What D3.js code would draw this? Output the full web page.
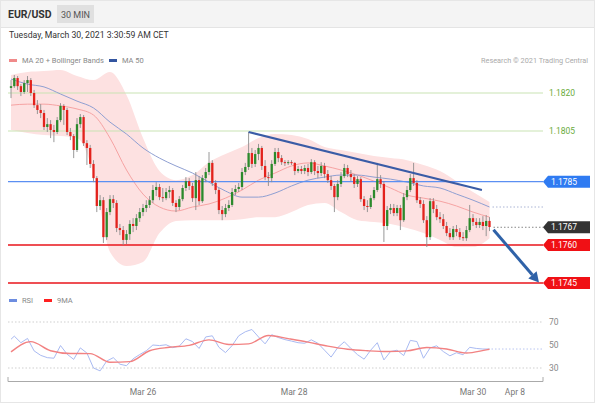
<!DOCTYPE html>
<html>
<head>
<meta charset="utf-8">
<script src="https://cdnjs.cloudflare.com/ajax/libs/d3/7.8.5/d3.min.js"></script>
<style>
body{margin:0;background:#fff;}
svg text{font-family:Roboto,"Liberation Sans",Arial,sans-serif;}
</style>
</head>
<body>
<svg id="container"></svg>
<script>
// EUR/USD 30 min candles (open of each candle = previous close)
var firstOpen = 1.18220;
var closes = [1.18227,1.18259,1.18227,1.18204,1.18239,1.18251,1.18200,1.18152,1.18133,1.18121,
  1.18066,1.18077,1.18054,1.18046,1.18093,1.18149,1.18133,1.18046,1.18030,1.17975,
  1.18077,1.18105,1.18002,1.17983,1.17920,1.17864,1.17754,1.17777,1.17631,1.17730,
  1.17781,1.17766,1.17667,1.17659,1.17620,1.17643,1.17683,1.17675,1.17706,1.17730,
  1.17746,1.17758,1.17777,1.17817,1.17829,1.17789,1.17785,1.17809,1.17817,1.17766,
  1.17750,1.17781,1.17825,1.17852,1.17833,1.17785,1.17856,1.17773,1.17864,1.17888,
  1.17924,1.17845,1.17817,1.17738,1.17722,1.17746,1.17758,1.17809,1.17821,1.17829,
  1.17888,1.17908,1.17963,1.17920,1.17959,1.17983,1.17912,1.17868,1.17864,1.17920,
  1.17967,1.17943,1.17927,1.17924,1.17927,1.17924,1.17892,1.17900,1.17892,1.17904,
  1.17888,1.17927,1.17892,1.17884,1.17912,1.17880,1.17856,1.17833,1.17789,1.17841,
  1.17872,1.17904,1.17880,1.17868,1.17841,1.17860,1.17781,1.17754,1.17750,1.17785,
  1.17817,1.17860,1.17841,1.17675,1.17738,1.17746,1.17726,1.17746,1.17698,1.17789,
  1.17817,1.17864,1.17845,1.17777,1.17762,1.17698,1.17631,1.17773,1.17742,1.17710,
  1.17702,1.17675,1.17647,1.17631,1.17663,1.17651,1.17631,1.17627,1.17659,1.17706,
  1.17691,1.17679,1.17691,1.17675,1.17695,1.17671];
var highs = [1.18251,1.18271,1.18267,1.18235,1.18251,1.18267,1.18259,1.18212,1.18172,1.18156,
  1.18133,1.18101,1.18093,1.18074,1.18105,1.18160,1.18156,1.18141,1.18062,1.18038,
  1.18101,1.18117,1.18113,1.18014,1.17995,1.17935,1.17872,1.17797,1.17789,1.17746,
  1.17797,1.17797,1.17777,1.17683,1.17675,1.17659,1.17698,1.17706,1.17722,1.17746,
  1.17762,1.17777,1.17793,1.17837,1.17848,1.17841,1.17825,1.17825,1.17833,1.17825,
  1.17777,1.17793,1.17837,1.17868,1.17864,1.17845,1.17888,1.17872,1.17876,1.17904,
  1.17967,1.17935,1.17856,1.17825,1.17754,1.17762,1.17777,1.17825,1.17837,1.17845,
  1.17904,1.17924,1.18046,1.17983,1.17975,1.17999,1.17991,1.17935,1.17888,1.17935,
  1.17983,1.17983,1.17955,1.17935,1.17935,1.17935,1.17927,1.17912,1.17912,1.17916,
  1.17920,1.17939,1.17935,1.17912,1.17927,1.17924,1.17896,1.17872,1.17841,1.17856,
  1.17888,1.17920,1.17916,1.17896,1.17880,1.17872,1.17868,1.17793,1.17777,1.17797,
  1.17829,1.17924,1.17876,1.17852,1.17754,1.17762,1.17762,1.17758,1.17758,1.17805,
  1.17833,1.17880,1.17924,1.17856,1.17789,1.17777,1.17714,1.17785,1.17785,1.17758,
  1.17730,1.17722,1.17691,1.17667,1.17675,1.17679,1.17667,1.17651,1.17675,1.17758,
  1.17722,1.17706,1.17706,1.17714,1.17718,1.17710];
var lows = [1.18180,1.18220,1.18212,1.18188,1.18196,1.18204,1.18188,1.18141,1.18117,1.18101,
  1.18054,1.18046,1.18022,1.18006,1.18038,1.18085,1.18074,1.18034,1.18014,1.17943,
  1.17967,1.18062,1.17991,1.17916,1.17904,1.17848,1.17730,1.17738,1.17608,1.17620,
  1.17718,1.17746,1.17651,1.17639,1.17600,1.17604,1.17620,1.17651,1.17659,1.17691,
  1.17714,1.17730,1.17746,1.17766,1.17793,1.17777,1.17770,1.17777,1.17785,1.17754,
  1.17730,1.17738,1.17773,1.17813,1.17817,1.17770,1.17738,1.17758,1.17766,1.17848,
  1.17876,1.17833,1.17801,1.17722,1.17698,1.17710,1.17734,1.17750,1.17797,1.17809,
  1.17817,1.17876,1.17896,1.17904,1.17908,1.17935,1.17896,1.17856,1.17833,1.17848,
  1.17912,1.17927,1.17916,1.17912,1.17916,1.17916,1.17876,1.17884,1.17880,1.17880,
  1.17872,1.17880,1.17876,1.17864,1.17872,1.17864,1.17845,1.17817,1.17730,1.17777,
  1.17829,1.17864,1.17868,1.17852,1.17825,1.17829,1.17770,1.17738,1.17730,1.17742,
  1.17777,1.17809,1.17825,1.17612,1.17659,1.17722,1.17714,1.17714,1.17659,1.17691,
  1.17777,1.17809,1.17833,1.17766,1.17746,1.17687,1.17592,1.17620,1.17726,1.17698,
  1.17687,1.17663,1.17635,1.17620,1.17620,1.17635,1.17620,1.17616,1.17616,1.17651,
  1.17675,1.17667,1.17667,1.17659,1.17635,1.17655];

// indicators, read every 5 candles
var bandIdx = d3.range(0, 146, 5);
var bbUp  = [1.18271,1.18283,1.18287,1.18291,1.18267,1.18251,1.18283,1.18192,1.18022,1.17892,
  1.17856,1.17876,1.17927,1.17959,1.17987,1.18022,1.18038,1.18034,1.18018,1.17987,
  1.17975,1.17963,1.17951,1.17943,1.17935,1.17916,1.17892,1.17852,1.17809,1.17770];
var bbLow = [1.18054,1.18042,1.18034,1.18030,1.18022,1.17880,1.17572,1.17517,1.17533,1.17647,
  1.17695,1.17698,1.17698,1.17698,1.17702,1.17710,1.17710,1.17730,1.17758,1.17766,
  1.17730,1.17698,1.17691,1.17683,1.17667,1.17647,1.17620,1.17592,1.17592,1.17627];
var ma20  = [1.18152,1.18156,1.18156,1.18149,1.18137,1.18113,1.18022,1.17896,1.17801,1.17750,
  1.17734,1.17750,1.17762,1.17785,1.17817,1.17856,1.17884,1.17912,1.17924,1.17912,
  1.17896,1.17876,1.17852,1.17825,1.17797,1.17785,1.17773,1.17754,1.17730,1.17710];
var ma50  = [1.18255,1.18235,1.18224,1.18196,1.18168,1.18141,1.18085,1.18038,1.17983,1.17943,
  1.17912,1.17884,1.17848,1.17813,1.17789,1.17789,1.17805,1.17833,1.17856,1.17868,
  1.17876,1.17876,1.17868,1.17860,1.17848,1.17833,1.17825,1.17801,1.17777,1.17750];

// RSI every 2 candles (odd candles), 9MA every 6
var rsiIdx = d3.range(1, 146, 2);
var rsi = [57.7,52.0,55.7,44.9,41.0,39.0,38.5,49.5,42.0,37.5,
  47.5,43.0,30.0,27.5,36.0,39.0,33.3,32.0,38.0,41.7,
  45.0,50.0,49.5,50.2,47.7,49.0,55.4,53.0,47.0,57.0,
  58.0,48.0,43.4,49.5,58.0,61.5,63.5,57.0,51.0,59.0,
  56.5,54.7,53.4,52.0,51.5,54.5,51.5,45.5,39.5,47.7,
  52.8,47.0,41.6,37.7,45.5,52.0,37.0,44.3,45.5,40.8,
  54.0,53.0,38.5,47.5,49.3,44.3,40.6,43.3,41.5,48.0,
  47.0,46.5,46.5];
var ma9Idx = [0,6,12,18,24,30,36,42,48,54,60,66,72,78,84,90,96,102,108,114,120,126,132,138,144,145];
var rsiMa9 = [44.0,52.9,45.0,42.6,42.5,35.0,35.5,45.0,48.0,49.7,54.5,50.5,51.0,58.3,55.5,52.5,49.0,46.3,45.0,44.3,44.9,47.8,46.5,43.0,45.8,46.3];

// levels and drawings
var greenLevels = [1.1820, 1.1805];
var resistance = 1.1785;
var supports = [1.1760, 1.1745];
var lastPrice = 1.1767;
var trendIdx = [72, 142.7], trendPx = [1.18046, 1.17817];
var arrowIdx = [146.2, 160], arrowPx = [1.17660, 1.17452];
var tickLabels = ["Mar 26", "Mar 28", "Mar 30", "Apr 8"];
var tickIdx = [40, 85.8, 140, 152.7];
var rsiLevels = [70, 50, 30];

var W = 595, H = 403;
var left = 8, right = 543;

var svg = d3.select("#container").attr("width", W).attr("height", H);

var prices = closes.map(function(c, i){
    return {i: i, open: i ? closes[i-1] : firstOpen, high: highs[i], low: lows[i], close: c};
});

var xScale = d3.scaleLinear().domain([0, 145]).range([11, 489.5]);
var yScale = d3.scaleLinear().domain([1.1745, 1.1820]).range([283, 93]);
var rScale = d3.scaleLinear().domain([30, 70]).range([368, 322]);

// frame + header
svg.append("rect").attr("x", 0.5).attr("y", 0.5).attr("width", W-1).attr("height", H-1)
    .attr("fill", "#fff").attr("stroke", "#e6e6e6");
svg.append("rect").attr("x", 1).attr("y", 1).attr("width", W-2).attr("height", 26).attr("fill", "#f4f4f4");
svg.append("line").attr("x1", 1).attr("x2", W-1).attr("y1", 27.5).attr("y2", 27.5).attr("stroke", "#e4e4e4");
svg.append("text").attr("x", 8).attr("y", 18).attr("font-size", 10.5).attr("font-weight", "bold")
    .attr("fill", "#333").text("EUR/USD");
svg.append("rect").attr("x", 57).attr("y", 5).attr("width", 37).attr("height", 18).attr("fill", "#e0e0e0");
svg.append("text").attr("x", 75.5).attr("y", 17.5).attr("font-size", 9).attr("text-anchor", "middle")
    .attr("fill", "#555").text("30 MIN");
svg.append("text").attr("x", 9).attr("y", 38).attr("font-size", 8.7).attr("fill", "#333")
    .text("Tuesday, March 30, 2021 3:30:59 AM CET");
svg.append("text").attr("x", 588).attr("y", 63).attr("font-size", 7.3).attr("text-anchor", "end")
    .attr("fill", "#aaa").text("Research \u00a9 2021 Trading Central");

// legends
function legend(g, x, y, color, label){
    g.append("rect").attr("x", x).attr("y", y-3).attr("width", 8).attr("height", 3).attr("fill", color);
    g.append("text").attr("x", x+13).attr("y", y+1).attr("font-size", 7.5).attr("fill", "#888").text(label);
}
legend(svg, 9, 62, "#f08a8a", "MA 20 + Bollinger Bands");
legend(svg, 109, 62, "#3355a0", "MA 50");
legend(svg, 9, 302, "#6d8de0", "RSI");
legend(svg, 44, 302, "#ff2020", "9MA");

var main = svg.append("g");

// bollinger band + moving averages
var bands = bandIdx.map(function(d, k){ return {i: d, up: bbUp[k], low: bbLow[k], ma20: ma20[k], ma50: ma50[k]}; });
main.append("path").datum(bands)
    .attr("d", d3.area().curve(d3.curveMonotoneX).x(d => xScale(d.i)).y0(d => yScale(d.low)).y1(d => yScale(d.up)))
    .attr("fill", "#fde1e1");

// horizontal levels
greenLevels.forEach(function(p){
    main.append("line").attr("x1", left).attr("x2", right).attr("y1", yScale(p)).attr("y2", yScale(p))
        .attr("stroke", "#c9e4b4").attr("stroke-width", 1.2);
    main.append("text").attr("x", 549).attr("y", yScale(p)+3).attr("font-size", 8.5).attr("fill", "#6aab3c")
        .text(p.toFixed(4));
});

main.append("path").datum(bands)
    .attr("d", d3.line().curve(d3.curveMonotoneX).x(d => xScale(d.i)).y(d => yScale(d.ma20)))
    .attr("fill", "none").attr("stroke", "#f6a3a3").attr("stroke-width", 1);
main.append("path").datum(bands)
    .attr("d", d3.line().curve(d3.curveMonotoneX).x(d => xScale(d.i)).y(d => yScale(d.ma50)))
    .attr("fill", "none").attr("stroke", "#8f9fd2").attr("stroke-width", 1);

main.append("line").attr("x1", left).attr("x2", right).attr("y1", yScale(resistance)).attr("y2", yScale(resistance))
    .attr("stroke", "#5b8ff2").attr("stroke-width", 1.2);
supports.forEach(function(p){
    main.append("line").attr("x1", left).attr("x2", right).attr("y1", yScale(p)).attr("y2", yScale(p))
        .attr("stroke", "#e8151b").attr("stroke-width", 1.6);
});

// dotted extensions
main.append("line").attr("x1", xScale(145)+3).attr("x2", right)
    .attr("y1", yScale(ma50[ma50.length-1])).attr("y2", yScale(ma50[ma50.length-1]))
    .attr("stroke", "#aab4d4").attr("stroke-dasharray", "1.5,2");
main.append("line").attr("x1", xScale(145)+4).attr("x2", right)
    .attr("y1", yScale(lastPrice)).attr("y2", yScale(lastPrice))
    .attr("stroke", "#888").attr("stroke-dasharray", "1.5,2");

// candles
var bw = 2.3;
main.selectAll(".stem").data(prices).enter().append("line")
    .attr("x1", d => xScale(d.i)).attr("x2", d => xScale(d.i))
    .attr("y1", d => yScale(d.high)).attr("y2", d => yScale(d.low))
    .attr("stroke", "#8c8c8c").attr("stroke-width", 0.9);
main.selectAll(".candle").data(prices).enter().append("rect")
    .attr("x", d => xScale(d.i) - bw/2)
    .attr("y", d => yScale(Math.max(d.open, d.close)))
    .attr("width", bw)
    .attr("height", d => Math.max(1, yScale(Math.min(d.open, d.close)) - yScale(Math.max(d.open, d.close))))
    .attr("fill", d => d.close < d.open ? "#e3221c" : "#2c8a2c");

// trendline + arrow
main.append("line")
    .attr("x1", xScale(trendIdx[0])).attr("y1", yScale(trendPx[0]))
    .attr("x2", xScale(trendIdx[1])).attr("y2", yScale(trendPx[1]))
    .attr("stroke", "#3a5ca6").attr("stroke-width", 2);

var ax1 = xScale(arrowIdx[0]), ay1 = yScale(arrowPx[0]), ax2 = xScale(arrowIdx[1]), ay2 = yScale(arrowPx[1]);
var ang = Math.atan2(ay2 - ay1, ax2 - ax1), hl = 10, hw = 5.5;
var bx = ax2 - hl*Math.cos(ang), by = ay2 - hl*Math.sin(ang);
main.append("line").attr("x1", ax1).attr("y1", ay1).attr("x2", bx).attr("y2", by)
    .attr("stroke", "#2f62a8").attr("stroke-width", 3);
main.append("path")
    .attr("d", "M" + ax2 + "," + ay2 +
        "L" + (bx + hw*Math.sin(ang)) + "," + (by - hw*Math.cos(ang)) +
        "L" + (bx - hw*Math.sin(ang)) + "," + (by + hw*Math.cos(ang)) + "Z")
    .attr("fill", "#2f62a8");

// price tags
function tag(p, fill){
    var y = yScale(p);
    main.append("path")
        .attr("d", "M" + right + "," + y + "L" + (right+5) + "," + (y-6) + "L590," + (y-6) + "L590," + (y+6) + "L" + (right+5) + "," + (y+6) + "Z")
        .attr("fill", fill);
    main.append("text").attr("x", 551).attr("y", y+3).attr("font-size", 8.5).attr("fill", "#fff").text(p.toFixed(4));
}
tag(resistance, "#2f7bf2");
tag(lastPrice, "#333");
supports.forEach(p => tag(p, "#f01015"));

// RSI pane
var rsiG = svg.append("g");
[70, 30].forEach(function(v){
    rsiG.append("line").attr("x1", left).attr("x2", right).attr("y1", rScale(v)).attr("y2", rScale(v))
        .attr("stroke", "#cfcfcf").attr("stroke-dasharray", "1.5,2");
});
rsiLevels.forEach(function(v){
    rsiG.append("text").attr("x", 549).attr("y", rScale(v)+3).attr("font-size", 8.5).attr("fill", "#888").text(v);
});
rsiG.append("line").attr("x1", xScale(145)+2).attr("x2", right)
    .attr("y1", rScale(rsi[rsi.length-1])).attr("y2", rScale(rsi[rsi.length-1]))
    .attr("stroke", "#b9c6f0").attr("stroke-dasharray", "1.5,2");

var rsiPts = rsiIdx.map((d, k) => [xScale(d), rScale(rsi[k])]);
rsiPts.unshift([xScale(0), rScale(55)]);
rsiG.append("path").attr("d", d3.line()(rsiPts))
    .attr("fill", "none").attr("stroke", "#a9baf2").attr("stroke-width", 1);
rsiG.append("path").attr("d", d3.line().curve(d3.curveMonotoneX)(ma9Idx.map((d, k) => [xScale(d), rScale(rsiMa9[k])])))
    .attr("fill", "none").attr("stroke", "#f28282").attr("stroke-width", 1.4);

// time axis
var axG = svg.append("g");
axG.append("path").attr("d", "M" + left + ",377V381.5H" + right + "V377")
    .attr("fill", "none").attr("stroke", "#aaa");
tickLabels.forEach(function(t, k){
    axG.append("text").attr("x", xScale(tickIdx[k])).attr("y", 395).attr("font-size", 8.5)
        .attr("text-anchor", "middle").attr("fill", "#777").text(t);
});
</script>
</body>
</html>
